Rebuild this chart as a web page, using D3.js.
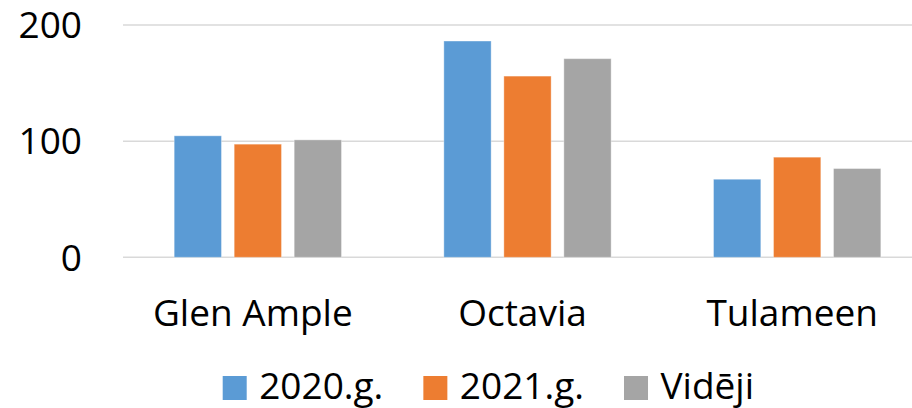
<!DOCTYPE html>
<html>
<head>
<meta charset="utf-8">
<script src="https://cdn.jsdelivr.net/npm/d3@7"></script>
<style>
  body { margin: 0; background: #fff; }
  text { font-family: "Open Sans", sans-serif; fill: #000; }
</style>
</head>
<body>
<svg width="912" height="408"></svg>
<script>
const categories = ["Glen Ample", "Octavia", "Tulameen"];
const seriesNames = ["2020.g.", "2021.g.", "Vidēji"];
const values2020 = [104.6, 186.2, 67.2];
const values2021 = [97.4, 156.0, 86.2];
const valuesAvg = [101.1, 171.0, 76.4];
const yTicks = [0, 100, 200];
const colors = ["#5B9BD5", "#ED7D31", "#A5A5A5"];

const seriesValues = [values2020, values2021, valuesAvg];
const data = categories.map((c, i) => ({
  cat: c,
  vals: seriesNames.map((s, j) => ({ name: s, value: seriesValues[j][i], color: colors[j] }))
}));

var svg = d3.select("svg"),
    plotLeft = 123, plotRight = 932, plotTop = 25, plotBottom = 257.3;

var x0 = d3.scaleBand().domain(categories).range([plotLeft, plotRight]);
var x1 = d3.scaleBand().domain(seriesNames).range([0, x0.bandwidth()])
    .paddingInner(0.212).paddingOuter(0.853);
var y = d3.scaleLinear().domain([0, 200]).range([plotBottom, plotTop]);

// gridlines
svg.append("g").selectAll("line")
    .data(yTicks)
  .enter().append("line")
    .attr("x1", plotLeft).attr("x2", 912)
    .attr("y1", d => y(d)).attr("y2", d => y(d))
    .attr("stroke", "#D9D9D9")
    .attr("stroke-width", 1.5);

// y labels
svg.append("g").selectAll("text")
    .data(yTicks)
  .enter().append("text")
    .attr("x", 82)
    .attr("y", d => y(d))
    .attr("dy", "0.36em")
    .attr("text-anchor", "end")
    .style("font-size", "37px")
    .text(d => d);

// bars
var groups = svg.append("g").selectAll("g")
    .data(data)
  .enter().append("g")
    .attr("transform", d => "translate(" + x0(d.cat) + ",0)");

groups.selectAll("rect")
    .data(d => d.vals)
  .enter().append("rect")
    .attr("x", d => x1(d.name))
    .attr("width", x1.bandwidth())
    .attr("y", d => y(d.value))
    .attr("height", d => y(0) - y(d.value))
    .attr("fill", d => d.color)
    .attr("stroke", "#fff")
    .attr("stroke-opacity", 0.35)
    .attr("stroke-width", 1);

// category labels
svg.append("g").selectAll("text")
    .data(categories)
  .enter().append("text")
    .attr("x", d => x0(d) + x0.bandwidth() / 2 - 5)
    .attr("y", 326)
    .attr("text-anchor", "middle")
    .style("font-size", "37px")
    .text(d => d);

// legend
var legend = svg.append("g");
var lx = 222.7;
seriesNames.forEach(function(s, i) {
  legend.append("rect")
      .attr("x", lx).attr("y", 376)
      .attr("width", 24).attr("height", 24)
      .attr("fill", colors[i]);
  var t = legend.append("text")
      .attr("x", lx + 36.5)
      .attr("y", 398.5)
      .style("font-size", "37px")
      .text(s);
  lx += 36.5 + t.node().getComputedTextLength() + 40;
});
</script>
</body>
</html>
